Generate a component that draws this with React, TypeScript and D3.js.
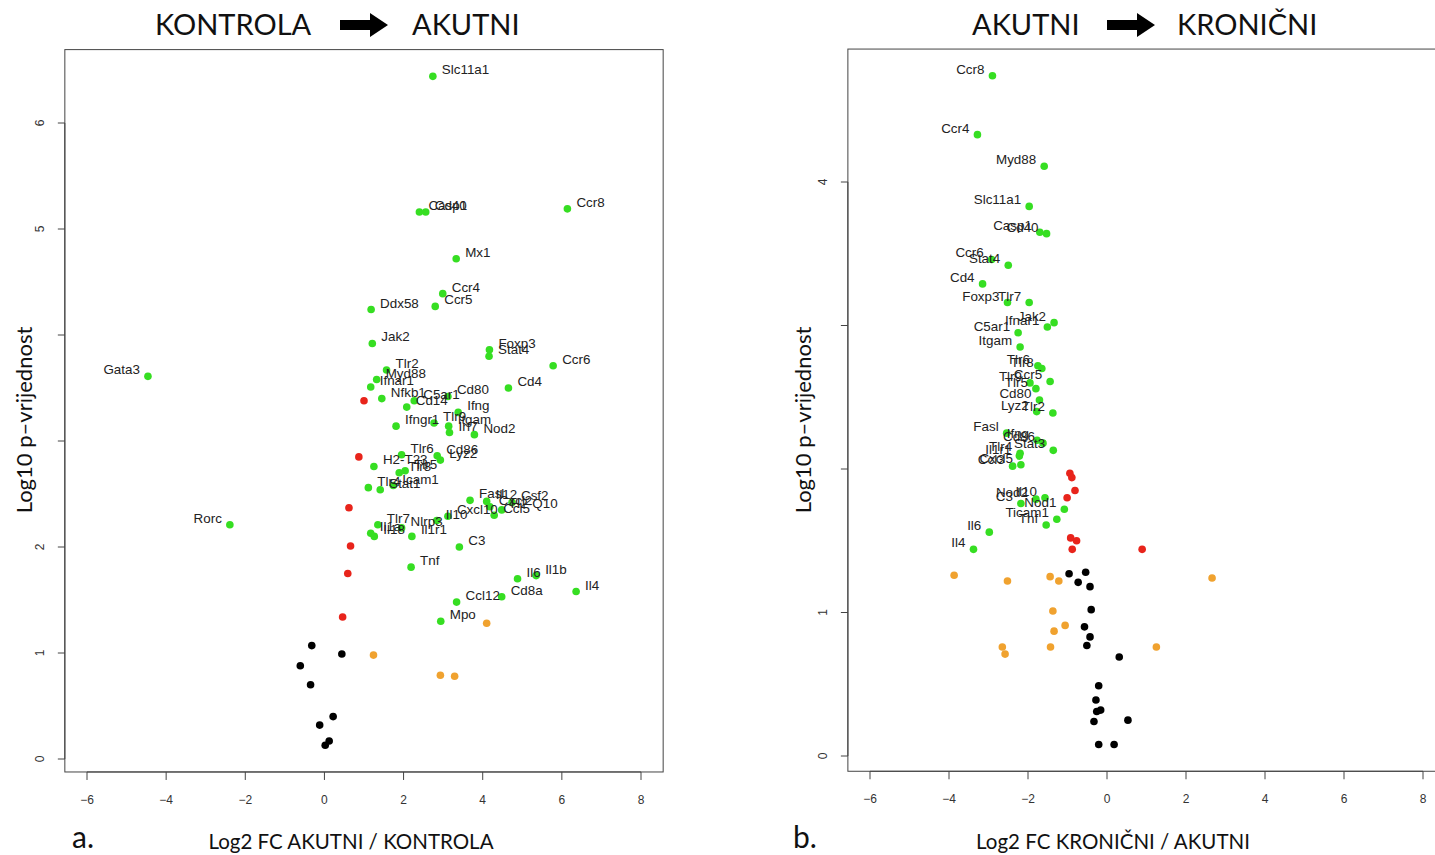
import React from "react";
import * as d3 from "d3";

type Gene = [string, number, number];
type XY = [number, number];

// ---------- Panel a: KONTROLA -> AKUTNI ----------
const aGreen: Gene[] = [
  ["Slc11a1", 2.74, 6.44], ["Casp1", 2.4, 5.16], ["Cd40", 2.56, 5.16], ["Ccr8", 6.14, 5.19],
  ["Mx1", 3.33, 4.72], ["Ccr4", 2.99, 4.39], ["Ccr5", 2.8, 4.27], ["Ddx58", 1.18, 4.24],
  ["Jak2", 1.21, 3.92], ["Foxp3", 4.17, 3.86], ["Stat4", 4.16, 3.8], ["Ccr6", 5.78, 3.71],
  ["Gata3", -4.46, 3.61], ["Tlr2", 1.57, 3.67], ["Myd88", 1.32, 3.58], ["Ifnar1", 1.17, 3.51],
  ["Cd4", 4.65, 3.5], ["Nfkb1", 1.45, 3.4], ["C5ar1", 2.27, 3.38], ["Cd14", 2.08, 3.32],
  ["Cd80", 3.12, 3.42], ["Ifng", 3.38, 3.27], ["Ifngr1", 1.81, 3.14], ["Tlr9", 2.77, 3.17],
  ["Itgam", 3.14, 3.14], ["Irf7", 3.16, 3.08], ["Nod2", 3.79, 3.06], ["Tlr6", 1.95, 2.87],
  ["Cd86", 2.85, 2.86], ["Lyz2", 2.93, 2.82], ["H2-T23", 1.25, 2.76], ["Tlr8", 1.89, 2.7],
  ["Tlr5", 2.04, 2.72], ["Icam1", 1.74, 2.58], ["Tlr4", 1.11, 2.56], ["Stat1", 1.41, 2.54],
  ["Fasl", 3.68, 2.44], ["Il12", 4.1, 2.43], ["Cxcl2", 4.18, 2.38], ["H2-Q10", 4.48, 2.35],
  ["Csf2", 4.74, 2.42], ["Ccl5", 4.29, 2.3], ["Cxcl10", 3.12, 2.29], ["Il10", 2.84, 2.25],
  ["Nlrp3", 1.95, 2.18], ["Tlr7", 1.35, 2.21], ["Il1a", 1.17, 2.13], ["Il18", 1.26, 2.1],
  ["Il1r1", 2.21, 2.1], ["C3", 3.41, 2.0], ["Tnf", 2.19, 1.81], ["Il6", 4.88, 1.7],
  ["Il1b", 5.35, 1.73], ["Il4", 6.36, 1.58], ["Ccl12", 3.34, 1.48], ["Cd8a", 4.48, 1.53],
  ["Mpo", 2.94, 1.3], ["Rorc", -2.39, 2.21],
];
const aRed: XY[] = [[1.0, 3.38], [0.87, 2.85], [0.62, 2.37], [0.66, 2.01], [0.59, 1.75], [0.46, 1.34]];
const aOrange: XY[] = [[1.24, 0.98], [4.1, 1.28], [2.93, 0.79], [3.29, 0.78]];
const aBlack: XY[] = [
  [-0.32, 1.07], [0.44, 0.99], [-0.61, 0.88], [-0.35, 0.7], [0.22, 0.4], [-0.12, 0.32], [0.12, 0.17], [0.02, 0.13],
];

// ---------- Panel b: AKUTNI -> KRONIČNI ----------
const bGreen: Gene[] = [
  ["Ccr8", -2.9, 4.74], ["Ccr4", -3.28, 4.33], ["Myd88", -1.59, 4.11], ["Slc11a1", -1.97, 3.83],
  ["Casp1", -1.7, 3.65], ["Cd40", -1.53, 3.64], ["Ccr6", -2.92, 3.46], ["Stat4", -2.5, 3.42],
  ["Cd4", -3.15, 3.29], ["Foxp3", -2.52, 3.16], ["Tlr7", -1.97, 3.16], ["Ifnar1", -1.51, 2.99],
  ["Jak2", -1.34, 3.02], ["C5ar1", -2.25, 2.95], ["Itgam", -2.2, 2.85], ["Tlr8", -1.65, 2.7],
  ["Tlr6", -1.75, 2.72], ["Ccr5", -1.44, 2.61], ["Tlr9", -1.95, 2.6], ["Tlr5", -1.8, 2.56],
  ["Cd80", -1.71, 2.48], ["Lyz2", -1.78, 2.4], ["Tlr2", -1.37, 2.39], ["Fasl", -2.54, 2.25],
  ["Ifng", -1.77, 2.2], ["Cd86", -1.62, 2.18], ["Stat3", -1.36, 2.13], ["Tlr4", -2.2, 2.11],
  ["Il1r1", -2.22, 2.09], ["Ccl3", -2.39, 2.02], ["Cxcl5", -2.18, 2.03], ["Nod2", -1.8, 1.79],
  ["Il10", -1.57, 1.8], ["C3", -2.18, 1.76], ["Nod1", -1.08, 1.72], ["Ticam1", -1.27, 1.65],
  ["Tnf", -1.54, 1.61], ["Il6", -2.98, 1.56], ["Il4", -3.38, 1.44],
];
const bRed: XY[] = [
  [-0.94, 1.97], [-0.89, 1.94], [-0.81, 1.85], [-1.01, 1.8], [-0.92, 1.52], [-0.77, 1.5], [-0.88, 1.44], [0.89, 1.44],
];
const bOrange: XY[] = [
  [-3.87, 1.26], [-2.52, 1.22], [-1.44, 1.25], [-1.22, 1.22], [2.66, 1.24], [-1.37, 1.01],
  [-1.06, 0.91], [-1.34, 0.87], [-2.65, 0.76], [-2.58, 0.71], [-1.43, 0.76], [1.25, 0.76],
];
const bBlack: XY[] = [
  [-0.96, 1.27], [-0.54, 1.28], [-0.73, 1.21], [-0.43, 1.18], [-0.4, 1.02], [-0.57, 0.9],
  [-0.43, 0.83], [-0.51, 0.77], [0.31, 0.69], [-0.21, 0.49], [-0.28, 0.39], [-0.26, 0.31],
  [-0.16, 0.32], [-0.33, 0.24], [0.53, 0.25], [-0.21, 0.08], [0.18, 0.08],
];

const xTicks = [-6, -4, -2, 0, 2, 4, 6, 8];
const aYTicks = [0, 1, 2, 3, 4, 5, 6];
const aYTickLabels = ["0", "1", "2", "", "", "5", "6"];
const bYTicks = [0, 1, 2, 3, 4];
const bYTickLabels = ["0", "1", "", "", "4"];

const COL = { green: "#36de22", red: "#e8241b", orange: "#f0a22f", black: "#000000" };
const SANS = "'Liberation Sans', Arial, Helvetica, sans-serif";
const TITLE = "Lato, 'Open Sans', sans-serif";

interface PanelProps {
  green: Gene[]; red: XY[]; orange: XY[]; black: XY[];
  xRange: [number, number]; yTickMax: number; yRange: [number, number];
  yTicks: number[]; yTickLabels: string[];
}

function Panel(p: PanelProps) {
  const x = d3.scaleLinear().domain([-6, 8]).range(p.xRange);
  const y = d3.scaleLinear().domain([0, p.yTickMax]).range(p.yRange);
  const allY = [...p.green.map((g) => g[2]), ...p.red.map((d) => d[1]), ...p.orange.map((d) => d[1]), ...p.black.map((d) => d[1])];
  const [ymin, ymax] = d3.extent(allY) as [number, number];
  const ext = (ymax - ymin) * 0.04;
  const left = x(-6 - 14 * 0.04), right = x(8 + 14 * 0.04);
  const top = y(ymax + ext), bottom = y(ymin - ext);
  const r = 3.8;
  return (
    <g>
      <rect x={left} y={top} width={right - left} height={bottom - top} fill="none" stroke="#444" strokeWidth={1} />
      {/* x axis */}
      <line x1={x(-6)} x2={x(8)} y1={bottom} y2={bottom} stroke="#444" />
      {xTicks.map((t) => (
        <g key={"xt" + t}>
          <line x1={x(t)} x2={x(t)} y1={bottom} y2={bottom + 8} stroke="#444" />
          <text x={x(t)} y={bottom + 32} fontSize={12} fontFamily={SANS} fill="#333" textAnchor="middle">
            {t < 0 ? "\u2212" + Math.abs(t) : String(t)}
          </text>
        </g>
      ))}
      {/* y axis */}
      <line x1={left} x2={left} y1={y(0)} y2={y(p.yTicks[p.yTicks.length - 1])} stroke="#444" />
      {p.yTicks.map((t, i) => (
        <g key={"yt" + t}>
          <line x1={left - 7} x2={left} y1={y(t)} y2={y(t)} stroke="#444" />
          {p.yTickLabels[i] ? (
            <text transform={`translate(${left - 25},${y(t)}) rotate(-90)`} fontSize={12} fontFamily={SANS} fill="#333"
              textAnchor="middle" dominantBaseline="central">{p.yTickLabels[i]}</text>
          ) : null}
        </g>
      ))}
      {p.black.map((d, i) => <circle key={"k" + i} cx={x(d[0])} cy={y(d[1])} r={r} fill={COL.black} />)}
      {p.orange.map((d, i) => <circle key={"o" + i} cx={x(d[0])} cy={y(d[1])} r={r} fill={COL.orange} />)}
      {p.red.map((d, i) => <circle key={"r" + i} cx={x(d[0])} cy={y(d[1])} r={r} fill={COL.red} />)}
      {p.green.map((g, i) => <circle key={"g" + i} cx={x(g[1])} cy={y(g[2])} r={r} fill={COL.green} />)}
      {p.green.map((g, i) => {
        const px = x(g[1]), py = y(g[2]);
        const onLeft = g[1] < 0;
        return (
          <text key={"l" + i} x={onLeft ? px - 8 : px + 9} y={py - 6.5} fontSize={13.4} fontFamily={SANS} fill="#222"
            textAnchor={onLeft ? "end" : "start"} dominantBaseline="central">{g[0]}</text>
        );
      })}
    </g>
  );
}

function Arrow({ x0, y0 }: { x0: number; y0: number }) {
  const d = `M${x0},${y0 - 5} L${x0 + 30},${y0 - 5} L${x0 + 30},${y0 - 12} L${x0 + 48},${y0} L${x0 + 30},${y0 + 12} L${x0 + 30},${y0 + 5} L${x0},${y0 + 5} Z`;
  return <path d={d} fill="#000" />;
}

export default function App() {
  return (
    <svg width={1435} height={855} style={{ position: "absolute", left: 0, top: 0, background: "#fff" }}>
      <rect width={1435} height={855} fill="#fff" />
      {/* Titles */}
      <text x={155} y={35} fontSize={29} fontFamily={TITLE} fill="#111">KONTROLA</text>
      <Arrow x0={340} y0={25} />
      <text x={412} y={35} fontSize={29} fontFamily={TITLE} fill="#111">AKUTNI</text>
      <text x={972} y={35} fontSize={29} fontFamily={TITLE} fill="#111">AKUTNI</text>
      <Arrow x0={1107} y0={25} />
      <text x={1177} y={35} fontSize={29} fontFamily={TITLE} fill="#111">KRONIČNI</text>

      <Panel green={aGreen} red={aRed} orange={aOrange} black={aBlack}
        xRange={[87, 641]} yTickMax={6} yRange={[759, 123]} yTicks={aYTicks} yTickLabels={aYTickLabels} />
      <Panel green={bGreen} red={bRed} orange={bOrange} black={bBlack}
        xRange={[870, 1423]} yTickMax={4} yRange={[756, 182]} yTicks={bYTicks} yTickLabels={bYTickLabels} />

      {/* axis titles */}
      <text transform="translate(32,420) rotate(-90)" fontSize={22} fontFamily={TITLE} fill="#111" textAnchor="middle">Log10 p–vrijednost</text>
      <text transform="translate(811,420) rotate(-90)" fontSize={22} fontFamily={TITLE} fill="#111" textAnchor="middle">Log10 p–vrijednost</text>
      <text x={72} y={848} fontSize={30} fontFamily={TITLE} fill="#111">a.</text>
      <text x={793} y={848} fontSize={30} fontFamily={TITLE} fill="#111">b.</text>
      <text x={351} y={849} fontSize={20.5} fontFamily={TITLE} fill="#111" textAnchor="middle">Log2 FC AKUTNI / KONTROLA</text>
      <text x={1113} y={849} fontSize={20.5} fontFamily={TITLE} fill="#111" textAnchor="middle">Log2 FC KRONIČNI / AKUTNI</text>
    </svg>
  );
}
